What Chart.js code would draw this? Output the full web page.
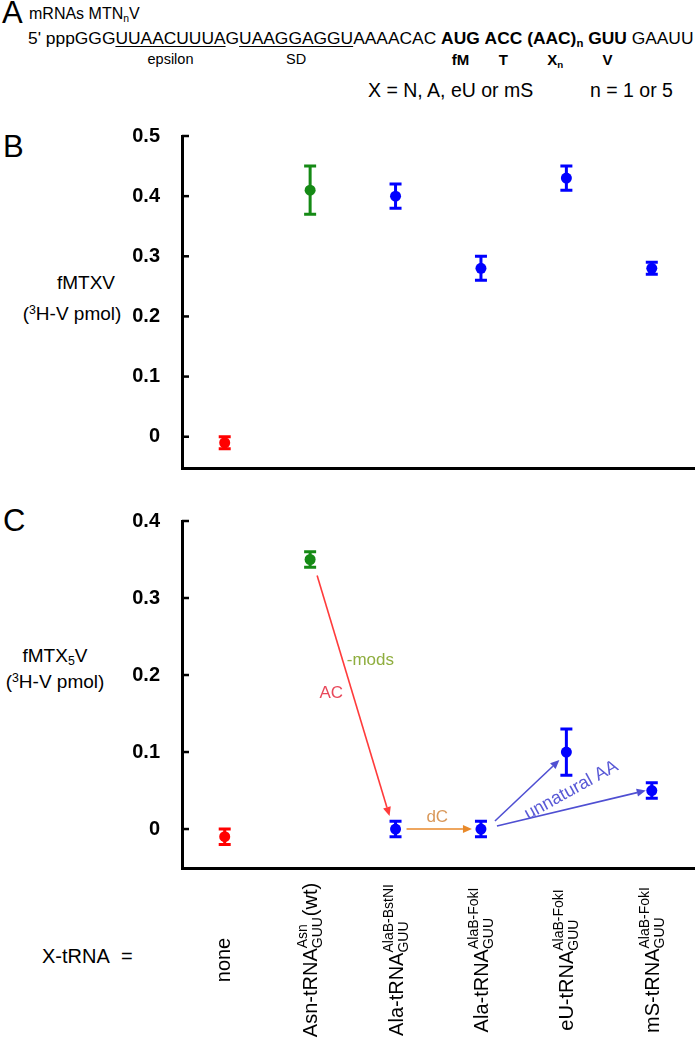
<!DOCTYPE html>
<html lang="en">
<head>
<meta charset="UTF-8">
<title>fMTXV / fMTX5V</title>
<script src="https://cdn.jsdelivr.net/npm/chart.js"></script>
<style>
  body { margin: 0; width: 700px; height: 1048px; position: relative; overflow: hidden; background: #fff; color: #000;
         font-family: "Liberation Sans", Arial, sans-serif; }
  .abs { position: absolute; white-space: nowrap; line-height: 1; }
  .letter { font-size: 31px; }
  .u { text-decoration: underline; text-underline-offset: 2px; text-decoration-thickness: 1px; }
  .ytitle { font-size: 19px; width: 110px; text-align: center; }
  sub { font-size: 65%; vertical-align: -3px; line-height: 0; }
  sup { font-size: 65%; vertical-align: 6px; line-height: 0; }
  canvas { position: absolute; left: 0; }
</style>
</head>
<body>
<div class="abs letter" style="left:2px; top:-3px">A</div>
<div class="abs" style="left:29px; top:6px; font-size:16px">mRNAs MTN<sub>n</sub>V</div>
<div id="seq" class="abs" style="left:28px; top:30px; font-size:17.4px">5' pppGGG<span class="u" id="s-eps">UUAACUUUA</span>G<span class="u" id="s-sd">UAAGGAGGU</span>AAAACAC <b id="s-fm">AUG</b> <b id="s-t">ACC</b> <b id="s-x">(AAC)<sub>n</sub></b> <b id="s-v">GUU</b> GAAUU</div>
<div class="abs" data-for="s-eps" style="top:52px; font-size:14.5px">epsilon</div>
<div class="abs" data-for="s-sd" style="top:52px; font-size:14.5px">SD</div>
<div class="abs" data-for="s-fm" style="top:52px; font-size:15px; font-weight:bold">fM</div>
<div class="abs" data-for="s-t" style="top:52px; font-size:15px; font-weight:bold">T</div>
<div class="abs" data-for="s-x" style="top:52px; font-size:15px; font-weight:bold">X<sub>n</sub></div>
<div class="abs" data-for="s-v" style="top:52px; font-size:15px; font-weight:bold">V</div>
<div class="abs" style="left:368px; top:81px; font-size:19.5px">X = N, A, eU or mS</div>
<div class="abs" style="left:590px; top:81px; font-size:19.5px">n = 1 or 5</div>

<div class="abs letter" style="left:3px; top:131px">B</div>
<div class="abs ytitle" style="left:31px; top:273px">fMTXV</div>
<div class="abs ytitle" style="left:17px; top:304px">(<sup>3</sup>H-V pmol)</div>

<div class="abs letter" style="left:3px; top:505px">C</div>
<div class="abs ytitle" style="left:0px; top:646px">fMTX<sub>5</sub>V</div>
<div class="abs ytitle" style="left:0px; top:672px">(<sup>3</sup>H-V pmol)</div>

<div class="abs" style="left:42px; top:946px; font-size:20px">X-tRNA&nbsp; =</div>

<canvas id="chartB" width="700" height="384" style="top:110px"></canvas>
<canvas id="chartC" width="700" height="553" style="top:495px"></canvas>

<script>
// categories (x) and tick labels
const categories = ['none', 'Asn-tRNA(wt)', 'Ala-tRNA AlaB-BstNI', 'Ala-tRNA AlaB-FokI', 'eU-tRNA AlaB-FokI', 'mS-tRNA AlaB-FokI'];
const labelMain = ['none', 'Asn-tRNA', 'Ala-tRNA', 'Ala-tRNA', 'eU-tRNA', 'mS-tRNA'];
const labelSup  = ['', 'Asn', 'AlaB-BstNI', 'AlaB-FokI', 'AlaB-FokI', 'AlaB-FokI'];
const labelSub  = ['', 'GUU', 'GUU', 'GUU', 'GUU', 'GUU'];
const labelTail = ['', '(wt)', '', '', '', ''];

// panel B: fMTXV
const valuesB = [-0.01, 0.41, 0.40, 0.28, 0.43, 0.28];
const errB    = [0.01, 0.04, 0.02, 0.02, 0.02, 0.01];
const ticksB  = [0, 0.1, 0.2, 0.3, 0.4, 0.5];

// panel C: fMTX5V
const valuesC = [-0.01, 0.35, 0.00, 0.00, 0.10, 0.05];
const errC    = [0.01, 0.01, 0.01, 0.01, 0.03, 0.01];
const ticksC  = [0, 0.1, 0.2, 0.3, 0.4];

const pointColors = ['#ff0000', '#158a15', '#0000ff', '#0000ff', '#0000ff', '#0000ff'];
const FONT = '"Liberation Sans", Arial, sans-serif';

// place the panel A labels under their sequence spans
document.querySelectorAll('[data-for]').forEach(el => {
    const r = document.getElementById(el.dataset.for).getBoundingClientRect();
    el.style.left = (r.left + r.width / 2 - el.getBoundingClientRect().width / 2) + 'px';
});

const errorBars = {
    id: 'errorBars',
    beforeDatasetsDraw(chart, args, opts) {
        const ctx = chart.ctx, xs = chart.scales.x, ys = chart.scales.y;
        const vals = chart.data.datasets[0].data;
        ctx.save();
        ctx.lineWidth = 3;
        vals.forEach((v, i) => {
            const x = xs.getPixelForValue(i);
            const lo = ys.getPixelForValue(v - opts.err[i]);
            const hi = ys.getPixelForValue(v + opts.err[i]);
            ctx.strokeStyle = pointColors[i];
            ctx.beginPath();
            ctx.moveTo(x, lo); ctx.lineTo(x, hi);
            ctx.moveTo(x - 6, lo); ctx.lineTo(x + 6, lo);
            ctx.moveTo(x - 6, hi); ctx.lineTo(x + 6, hi);
            ctx.stroke();
        });
        ctx.restore();
    }
};

// tick marks pointing into the plot
const innerTicks = {
    id: 'innerTicks',
    afterDraw(chart) {
        const ctx = chart.ctx, ys = chart.scales.y, left = chart.chartArea.left;
        ctx.save();
        ctx.strokeStyle = '#000';
        ctx.lineWidth = 2.5;
        ys.ticks.forEach(t => {
            const y = ys.getPixelForValue(t.value);
            ctx.beginPath(); ctx.moveTo(left, y); ctx.lineTo(left + 7, y); ctx.stroke();
        });
        ctx.restore();
    }
};

// rotated x labels with super/subscripts (panel C only)
const xLabels = {
    id: 'xLabels',
    afterDraw(chart) {
        const ctx = chart.ctx, xs = chart.scales.x;
        const cy = 465;
        ctx.save();
        ctx.fillStyle = '#000';
        ctx.textBaseline = 'alphabetic';
        categories.forEach((c, i) => {
            const x = xs.getPixelForValue(i);
            ctx.font = '20px ' + FONT;
            const wMain = ctx.measureText(labelMain[i]).width;
            const wTail = ctx.measureText(labelTail[i]).width;
            ctx.font = '14px ' + FONT;
            const wScript = Math.max(ctx.measureText(labelSup[i]).width, ctx.measureText(labelSub[i]).width);
            const total = wMain + wScript + (wTail ? wTail + 1 : 0);
            const b = labelSup[i] ? 7 : 5;
            ctx.save();
            ctx.translate(x, cy);
            ctx.rotate(-Math.PI / 2);
            let lx = -total / 2;
            ctx.font = '20px ' + FONT;
            ctx.fillText(labelMain[i], lx, b);
            lx += wMain;
            if (labelSup[i]) {
                ctx.font = '14px ' + FONT;
                ctx.fillText(labelSup[i], lx, b - 10);
                ctx.fillText(labelSub[i], lx, b + 5);
                lx += wScript + 1;
            }
            if (labelTail[i]) {
                ctx.font = '20px ' + FONT;
                ctx.fillText(labelTail[i], lx, b);
            }
            ctx.restore();
        });
        ctx.restore();
    }
};

function drawArrow(ctx, x1, y1, x2, y2, color) {
    const a = Math.atan2(y2 - y1, x2 - x1), hl = 9, hw = 4;
    const bx = x2 - hl * Math.cos(a), by = y2 - hl * Math.sin(a);
    ctx.strokeStyle = color; ctx.fillStyle = color; ctx.lineWidth = 1.6;
    ctx.beginPath(); ctx.moveTo(x1, y1); ctx.lineTo(bx, by); ctx.stroke();
    ctx.beginPath();
    ctx.moveTo(x2, y2);
    ctx.lineTo(bx + hw * Math.sin(a), by - hw * Math.cos(a));
    ctx.lineTo(bx - hw * Math.sin(a), by + hw * Math.cos(a));
    ctx.closePath(); ctx.fill();
}

// arrows between points in panel C
const arrowsC = {
    id: 'arrowsC',
    afterDatasetsDraw(chart) {
        const ctx = chart.ctx, xs = chart.scales.x, ys = chart.scales.y;
        const P = i => [xs.getPixelForValue(i), ys.getPixelForValue(valuesC[i])];
        const list = [
            [1, 2, '#ff3b3b', 7, 16, -6, -13],
            [2, 3, '#e8892a', 11, 0, -9, 0],
            [3, 4, '#4f4fd2', 14, -8, -7, 8],
            [3, 5, '#4f4fd2', 16, -3, -6, 0]
        ];
        ctx.save();
        const mids = list.map(([f, t, col, dx1, dy1, dx2, dy2]) => {
            const [x1, y1] = P(f), [x2, y2] = P(t);
            drawArrow(ctx, x1 + dx1, y1 + dy1, x2 + dx2, y2 + dy2, col);
            return [(x1 + dx1 + x2 + dx2) / 2, (y1 + dy1 + y2 + dy2) / 2];
        });
        ctx.font = '17px ' + FONT;
        ctx.textAlign = 'center';
        ctx.textBaseline = 'middle';
        ctx.fillStyle = '#e8485a';
        ctx.fillText('AC', mids[0][0] - 22, mids[0][1] - 2);
        ctx.fillStyle = '#8fae3f';
        ctx.fillText('-mods', mids[0][0] + 17, mids[0][1] - 35);
        ctx.fillStyle = '#d9985a';
        ctx.fillText('dC', mids[1][0] - 2, mids[1][1] - 12);
        ctx.save();
        ctx.translate(mids[3][0], mids[3][1] - 18);
        ctx.rotate(-29 * Math.PI / 180);
        ctx.font = '18px ' + FONT;
        ctx.fillStyle = '#5a5ad6';
        ctx.fillText('unnatural AA', 0, 0);
        ctx.restore();
        ctx.restore();
    }
};

function makeChart(id, values, errs, yMin, yMax, yTicks, padTop, xHeight, extra) {
    return new Chart(document.getElementById(id), {
        type: 'line',
        data: {
            labels: categories,
            datasets: [{
                data: values,
                showLine: false,
                pointRadius: 5.5,
                pointBorderWidth: 0,
                pointBackgroundColor: pointColors
            }]
        },
        options: {
            responsive: false,
            animation: false,
            layout: { padding: { top: padTop, right: 3, left: 0, bottom: 0 } },
            scales: {
                x: {
                    type: 'category',
                    offset: true,
                    grid: { display: false },
                    ticks: { display: false },
                    border: { display: true, color: '#000', width: 3 },
                    afterFit(s) { s.height = xHeight; }
                },
                y: {
                    min: yMin,
                    max: yMax,
                    afterBuildTicks(s) { s.ticks = yTicks.map(v => ({ value: v })); },
                    ticks: {
                        color: '#000',
                        padding: 14,
                        font: { size: 20, weight: 'bold', family: FONT },
                        callback: v => v === 0 ? '0' : v.toFixed(1)
                    },
                    grid: { display: false },
                    border: { display: true, color: '#000', width: 3 },
                    afterFit(s) { s.width = 182; }
                }
            },
            plugins: {
                legend: { display: false },
                tooltip: { enabled: false },
                errorBars: { err: errs }
            }
        },
        plugins: [errorBars, innerTicks].concat(extra)
    });
}

makeChart('chartB', valuesB, errB, -0.052, 0.5, ticksB, 15, 10, []);
makeChart('chartC', valuesC, errC, -0.0506, 0.4, ticksC, 18, 180, [arrowsC, xLabels]);
</script>
</body>
</html>
